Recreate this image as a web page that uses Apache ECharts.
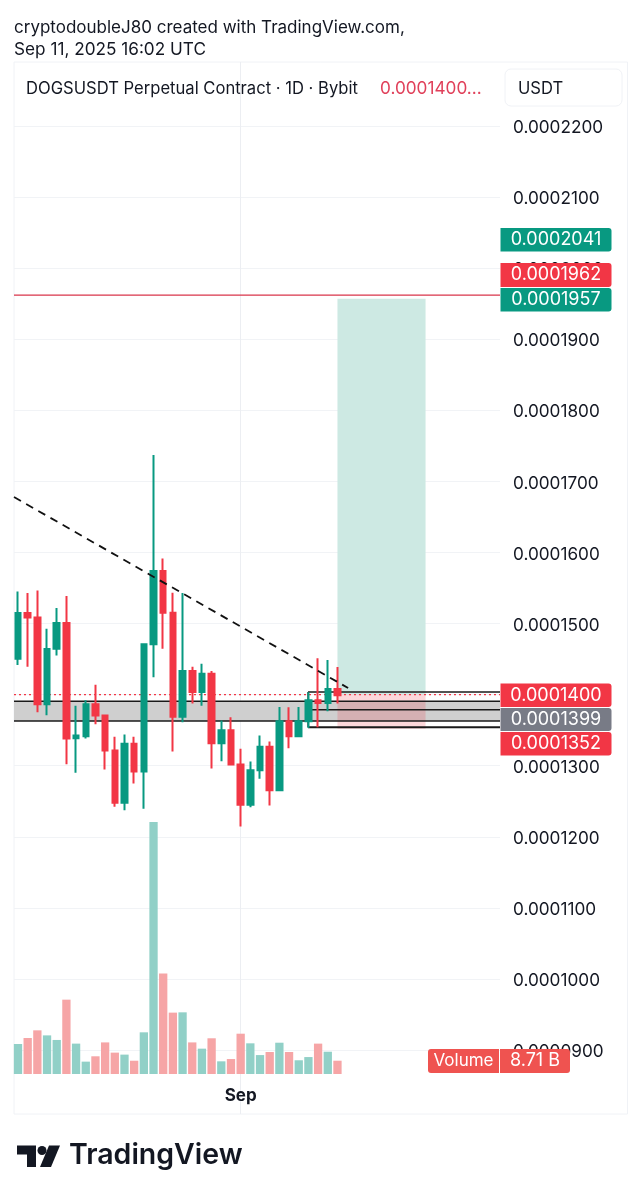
<!DOCTYPE html>
<html>

<head>
	<title>DOGSUSDT Perpetual Contract</title>
	<script type="text/javascript" src="https://cdn.jsdelivr.net/npm/echarts@6/dist/echarts.min.js"></script>
	<style>
		html, body { margin: 0; padding: 0; background: #fff; }
		#chart { width: 642px; height: 1200px; }
	</style>
</head>

<body>
	<div id="chart"></div>
	<script type="text/javascript">
		const dates = ['08-09','08-10','08-11','08-12','08-13','08-14','08-15','08-16','08-17','08-18','08-19','08-20','08-21','08-22','08-23','08-24','08-25','08-26','08-27','08-28','08-29','08-30','08-31','09-01','09-02','09-03','09-04','09-05','09-06','09-07','09-08','09-09','09-10','09-11'];
		const opens = [0.00014506,0.00015148,0.00015086,0.00013864,0.00014646,0.00015007,0.00013386,0.00013414,0.00013864,0.00013705,0.00013213,0.00012478,0.00013307,0.00012918,0.00014707,0.00015738,0.00015152,0.00013687,0.00014333,0.00014038,0.00014295,0.00013316,0.00013498,0.00013016,0.0001245,0.00012936,0.00013265,0.00012655,0.00013625,0.00013414,0.00013625,0.0001392,0.00013883,0.0001408];
		const closes = [0.00015148,0.00015086,0.00013864,0.00014642,0.00015007,0.00013382,0.00013424,0.00013864,0.00013705,0.00013213,0.00012478,0.00013307,0.00012918,0.00014707,0.00015738,0.00015152,0.00013687,0.00014333,0.00014038,0.00014295,0.00013316,0.00013498,0.00013016,0.0001245,0.00012936,0.00013265,0.00012655,0.00013625,0.00013414,0.00013625,0.0001392,0.00013883,0.0001408,0.0001399];
		const lows = [0.00014417,0.00014393,0.00013751,0.00013709,0.00014552,0.0001302,0.000129,0.00013382,0.00013583,0.00012946,0.00012422,0.00012374,0.0001275,0.00012394,0.00014243,0.00014646,0.00013199,0.00013611,0.00013874,0.00013845,0.0001296,0.00013063,0.00013012,0.00012145,0.00012417,0.00012816,0.0001244,0.00012641,0.00013246,0.0001341,0.00013532,0.0001354,0.00013765,0.00013874];
		const highs = [0.00015451,0.00015429,0.00015465,0.00014927,0.00015218,0.00015387,0.00013845,0.0001392,0.0001414,0.00013719,0.00013406,0.00013438,0.00013406,0.00014707,0.00017372,0.00015915,0.00015433,0.00015429,0.00014393,0.00014436,0.00014333,0.00013635,0.00013681,0.00013237,0.00013059,0.00013424,0.0001334,0.00013827,0.00013822,0.00013827,0.00014032,0.0001451,0.00014488,0.00014389];
		const volumes = [19.65,23.6,28.6,25.3,22.3,48.7,19.9,8.1,11.6,20.7,14,12.7,8.7,27.3,165.1,65.9,40.2,40.4,20.7,16.6,23.4,8.3,9.8,26.4,20.1,12.4,14.4,20.5,14.4,9,11.1,19.9,14.6,8.71];
		const priceTicks = { min: 0.00009, max: 0.00022, step: 0.00001 };

		// drawings, x is in days counted from the first candle
		const xStart = -0.413, xEnd = 49.79;
		const trendLine = [[xStart, 0.0001678], [34.1, 0.00014093]];
		const boxLevels = [[29.96, 0.00014038], [xStart, 0.00013905], [30.3, 0.00013788], [xStart, 0.0001363], [29.96, 0.00013540]];
		const boxSide = [[29.96, 0.00014038], [29.96, 0.0001354]];
		const lastPrice = 0.00014;
		const targetLine = 0.0001962;
		const longFrom = 33.0, longTo = 42.1, longEntry = 0.00014, longTarget = 0.0001957, longStop = 0.0001352;

		const up = '#089981', down = '#F23645';
		const font = 'Inter, "Noto Sans", sans-serif';
		const days = dates.map((d, i) => i);
		const sepDay = dates.indexOf('09-01');

		const candles = days.map(i => [i, opens[i], closes[i], lows[i], highs[i]]);
		const volumeBars = days.map(i => ({
			value: [i, volumes[i]],
			itemStyle: { color: closes[i] >= opens[i] ? '#91d0c7' : '#f6a5a6' }
		}));

		function flatLine(points, color, width, type, z) {
			return {
				type: 'line', xAxisIndex: 0, yAxisIndex: 0, data: points, symbol: 'none', silent: true, z: z,
				clip: false, lineStyle: { color: color, width: width, type: type }
			};
		}

		function chip(x, y, w, h, fill, text, radius, size) {
			return {
				type: 'rect', z: 50, shape: { x: x, y: y, width: w, height: h, r: radius }, style: { fill: fill },
				textContent: { type: 'text', z: 51, style: { text: text, fill: '#fff', font: (size || 18) + 'px ' + font } },
				textConfig: { position: 'inside' }
			};
		}

		function label(x, y, text, size, color, weight) {
			return {
				type: 'text', x: x, y: y, z: 60,
				style: { text: text, fill: color, font: (weight || 'normal') + ' ' + size + 'px ' + font }
			};
		}

		const series = [
			{
				type: 'bar', xAxisIndex: 1, yAxisIndex: 1, data: volumeBars, barWidth: 8.3, z: 1, silent: true
			},
			{
				type: 'line', xAxisIndex: 0, yAxisIndex: 0, data: [], symbol: 'none', z: 2, silent: true,
				markArea: {
					silent: true,
					data: [
						[{ coord: [xStart, boxLevels[1][1]], itemStyle: { color: '#cfcfcf' } }, { coord: [xEnd, boxLevels[3][1]] }],
						[{ coord: [longFrom, longEntry], itemStyle: { color: '#cde9e3' } }, { coord: [longTo, longTarget] }],
						[{ coord: [longFrom, longEntry], itemStyle: { color: 'rgba(242,54,69,0.2)' } }, { coord: [longTo, longStop] }]
					]
				}
			},
			flatLine([[xStart, lastPrice], [xEnd, lastPrice]], down, 1.3, [2, 3], 3),
			flatLine([[xStart, targetLine], [xEnd, targetLine]], '#d9344a', 1.4, 'solid', 3),
			flatLine(trendLine, '#111', 1.8, [8, 6], 6),
			flatLine(boxSide, '#222', 1.4, 'solid', 3)
		];
		boxLevels.forEach((lv, i) => {
			series.push(flatLine([[lv[0], lv[1]], [xEnd, lv[1]]], '#1a1a1a', i === 4 ? 2 : 1.5, 'solid', 3));
		});
		series.push({
			type: 'candlestick', xAxisIndex: 0, yAxisIndex: 0, data: candles, barWidth: 6, z: 5, silent: true, clip: false,
			encode: { x: 0, y: [1, 2, 3, 4] },
			itemStyle: { color: up, color0: down, borderColor: up, borderColor0: down, borderWidth: 2 }
		});

		const chart = echarts.init(document.getElementById('chart'), null, { renderer: 'canvas' });
		chart.setOption({
			animation: false,
			backgroundColor: '#fff',
			grid: [
				{ left: 14, right: 142, top: 126, height: 924 },
				{ left: 14, right: 142, top: 62, height: 1052 }
			],
			xAxis: [
				{ type: 'value', gridIndex: 0, min: xStart, max: xEnd, show: false, splitLine: { show: false } },
				{
					type: 'value', gridIndex: 1, min: xStart, max: xEnd,
					axisLine: { show: false },
					axisTick: { show: false, customValues: [sepDay] },
					axisLabel: {
						customValues: [sepDay], formatter: () => 'Sep', inside: true, margin: 10,
						color: '#131722', fontFamily: font, fontWeight: 'bold', fontSize: 17
					},
					splitLine: { show: true, lineStyle: { color: '#eceef2', width: 1 } }
				}
			],
			yAxis: [
				{
					type: 'value', gridIndex: 0, position: 'right', min: priceTicks.min, max: priceTicks.max, interval: priceTicks.step,
					axisLine: { show: false }, axisTick: { show: false },
					axisLabel: {
						margin: 13,
						formatter: v => '{p|' + v.toFixed(7) + '}',
						rich: { p: { color: '#131722', fontFamily: font, fontSize: 17.2, padding: [4, 0, 0, 0] } }
					},
					splitLine: { lineStyle: { color: '#f1f3f6', width: 1 } }
				},
				{ type: 'value', gridIndex: 1, min: -26.2, max: 662.9, show: false, splitLine: { show: false } }
			],
			series: series,
			graphic: [
				{ type: 'rect', z: 0, silent: true, shape: { x: 14, y: 62, width: 613.5, height: 1052 }, style: { fill: 'none', stroke: '#f0f2f6', lineWidth: 1 } },
				{ type: 'rect', z: 40, shape: { x: 505, y: 69, width: 117, height: 37, r: 6 }, style: { fill: '#fff', stroke: '#f0f2f6', lineWidth: 1 } },
				label(14, 19, 'cryptodoubleJ80 created with TradingView.com,', 17, '#131722'),
				label(14, 41, 'Sep 11, 2025 16:02 UTC', 17.2, '#131722'),
				label(26, 80, 'DOGSUSDT Perpetual Contract · 1D · Bybit', 16.6, '#131722'),
				label(380, 80, '0.0001400...', 17.2, '#e0405a'),
				label(518, 80, 'USDT', 16.6, '#131722'),
				chip(500.5, 228, 111, 23.5, up, '0.0002041', [0, 3, 3, 0]),
				chip(500.5, 263, 111, 24, down, '0.0001962', [0, 3, 3, 0]),
				chip(500.5, 288, 111, 23.5, up, '0.0001957', [0, 3, 3, 0]),
				chip(500.5, 683.5, 111, 23.5, down, '0.0001400', [0, 3, 3, 0]),
				chip(500.5, 708, 111, 23, '#787b86', '0.0001399', [0, 3, 3, 0]),
				chip(500.5, 732, 111, 23.5, down, '0.0001352', [0, 3, 3, 0]),
				chip(428, 1049, 71, 24, '#ef5350', 'Volume', [3, 0, 0, 3], 17),
				chip(500, 1049, 70, 24, '#ef5350', '8.71 B', [0, 3, 3, 0]),
				// TradingView mark
				{ type: 'polygon', z: 60, shape: { points: [[17, 1145.5], [36, 1145.5], [36, 1167], [27, 1167], [27, 1154.5], [17, 1154.5]] }, style: { fill: '#131722' } },
				{ type: 'circle', z: 60, shape: { cx: 42, cy: 1150.5, r: 4.5 }, style: { fill: '#131722' } },
				{ type: 'polygon', z: 60, shape: { points: [[49, 1145.5], [60, 1145.5], [51, 1167], [40, 1167]] }, style: { fill: '#131722' } },
				label(69, 1141, 'TradingView', 28.5, '#131722', '600')
			]
		});
	</script>
</body>

</html>
